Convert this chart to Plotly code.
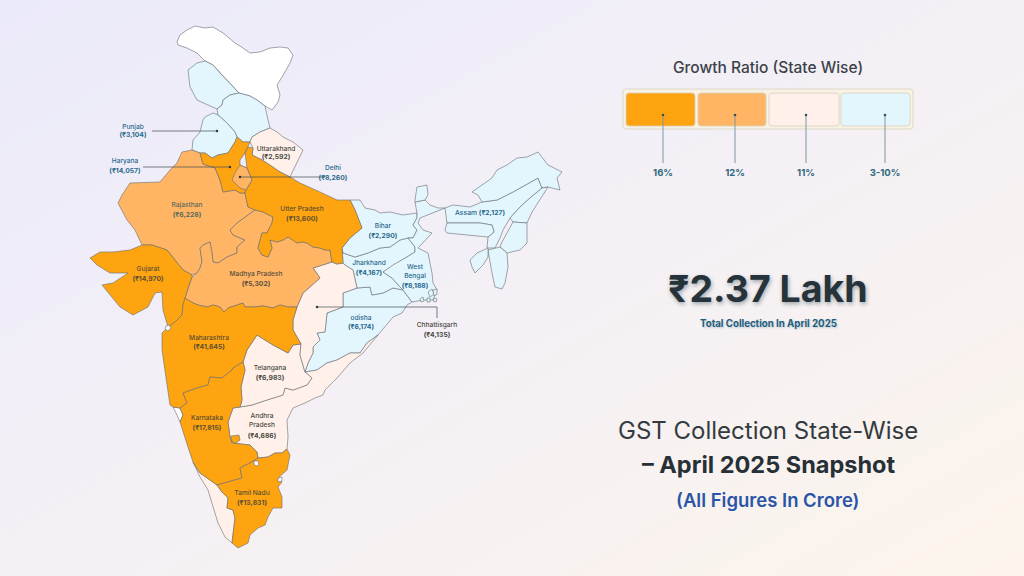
import plotly.graph_objects as go

FONT = "Inter"

# state outlines (x, y in image pixels)
LADAKH = [(177,42),(180,35),(187,30),(195,26),(205,28),(213,27),(223,33),(235,43),(243,48),(250,53),(260,52),(270,48),(280,47),(288,48),(293,55),(290,63),(282,77),(277,85),(280,95),(278,102),(272,110),(265,106),(257,100),(250,96),(239,93),(230,83),(220,73),(213,65),(205,61),(197,53),(187,48),(178,45)]
JAMMU_KASHMIR = [(188,70),(197,63),(205,61),(213,65),(220,73),(230,83),(239,93),(230,95),(223,100),(222,105),(217,109),(208,105),(197,100),(190,87)]
HIMACHAL = [(217,109),(222,105),(223,100),(230,95),(239,93),(250,96),(257,100),(265,106),(268,120),(270,128),(260,132),(252,137),(250,142),(243,142),(237,137),(235,132),(227,123),(218,115)]
PUNJAB = [(205,117),(213,113),(218,115),(227,123),(235,132),(237,137),(235,142),(228,153),(218,155),(212,158),(205,153),(200,153),(192,150),(193,140),(200,132),(203,120)]
UTTARAKHAND = [(252,137),(260,132),(270,128),(277,132),(283,137),(293,142),(303,150),(297,162),(290,177),(280,172),(270,165),(262,160),(252,155),(253,148),(250,142)]
HARYANA = [(200,153),(205,153),(212,158),(218,155),(228,153),(235,142),(237,137),(243,142),(250,142),(248,147),(245,153),(240,160),(240,165),(247,168),(252,180),(246,190),(245,193),(240,193),(235,190),(223,192),(220,180),(215,168),(203,164)]
DELHI = [(240,165),(247,168),(252,180),(246,190),(240,188),(232,180),(235,173)]
UTTAR_PRADESH = [(248,147),(253,148),(252,155),(262,160),(270,165),(280,172),(290,177),(300,183),(320,192),(337,200),(350,200),(355,210),(362,228),(350,238),(342,248),(343,263),(337,264),(332,262),(330,250),(325,250),(320,248),(313,247),(307,243),(302,242),(297,243),(293,240),(288,237),(283,240),(277,242),(270,240),(272,248),(268,257),(262,255),(258,248),(262,233),(267,233),(272,223),(273,217),(263,212),(255,210),(248,207),(245,193),(246,190),(252,180),(247,168),(245,153)]
RAJASTHAN = [(182,152),(192,150),(200,153),(203,164),(215,168),(220,180),(223,192),(235,190),(240,193),(245,193),(248,207),(255,210),(237,223),(230,230),(233,235),(245,240),(237,247),(237,253),(227,257),(218,263),(213,262),(212,253),(210,242),(203,245),(200,248),(202,262),(200,268),(197,273),(192,275),(183,270),(167,250),(152,245),(142,245),(135,230),(127,220),(118,203),(122,195),(130,183),(160,182),(170,170),(177,163)]
MADHYA_PRADESH = [(255,210),(263,212),(273,217),(272,223),(267,233),(262,233),(258,248),(262,255),(268,257),(272,248),(270,240),(277,242),(283,240),(288,237),(293,240),(297,243),(302,242),(307,243),(313,247),(320,248),(325,250),(330,250),(332,262),(313,268),(320,278),(310,287),(303,293),(297,307),(288,307),(280,305),(273,308),(263,306),(253,307),(245,307),(243,303),(237,305),(228,308),(224,312),(220,307),(213,305),(207,307),(198,305),(193,303),(185,298),(188,288),(192,277),(197,273),(200,268),(202,262),(200,248),(203,245),(210,242),(212,253),(213,262),(218,263),(227,257),(237,253),(237,247),(245,240),(233,235),(230,230),(237,223)]
GUJARAT = [(90,258),(100,252),(113,252),(130,250),(142,245),(152,245),(167,250),(183,270),(192,275),(192,277),(188,288),(185,298),(183,305),(182,315),(175,322),(168,327),(167,323),(163,310),(162,292),(155,293),(148,307),(133,315),(120,307),(108,293),(102,285),(113,283),(128,273),(110,273),(97,265)]
MAHARASHTRA = [(162,333),(167,328),(175,322),(182,315),(183,305),(185,298),(193,303),(198,305),(207,307),(213,305),(220,307),(224,312),(228,308),(237,305),(243,303),(245,307),(253,307),(263,306),(273,308),(280,305),(288,307),(297,307),(293,320),(293,330),(301,344),(293,345),(288,353),(273,345),(257,335),(247,350),(243,362),(233,368),(232,370),(222,378),(210,377),(208,385),(197,388),(183,393),(187,403),(180,408),(173,407),(170,405),(165,370),(162,350)]
KARNATAKA = [(243,362),(245,370),(241,387),(242,400),(240,407),(233,408),(228,422),(230,437),(232,443),(250,445),(257,452),(258,458),(250,463),(240,468),(242,478),(228,482),(217,485),(200,473),(193,462),(188,447),(180,422),(183,415),(180,408),(187,403),(183,393),(197,388),(208,385),(210,377),(222,378),(232,370),(233,368)]
GOA = [(173,407),(180,408),(183,415),(180,422),(177,415)]
KERALA = [(193,462),(200,473),(217,485),(222,492),(228,498),(227,508),(233,510),(235,518),(232,543),(225,537),(218,523),(215,513),(208,490),(200,477)]
TAMIL_NADU = [(217,485),(228,482),(242,478),(240,468),(250,463),(258,458),(268,457),(275,453),(282,453),(287,449),(290,455),(287,470),(278,478),(282,482),(278,487),(282,497),(282,508),(273,508),(268,517),(265,525),(258,528),(250,535),(248,543),(238,548),(232,543),(235,518),(233,510),(227,508),(228,498),(222,492)]
ANDHRA_PRADESH = [(240,407),(252,405),(267,400),(283,395),(285,388),(293,390),(307,385),(312,378),(305,372),(317,370),(327,363),(337,360),(350,353),(360,353),(367,343),(378,335),(363,353),(350,363),(337,378),(325,390),(323,395),(315,398),(305,403),(293,408),(287,420),(288,437),(287,449),(282,453),(275,453),(268,457),(258,458),(257,452),(250,445),(232,443),(230,437),(228,422),(233,408)]
TELANGANA = [(243,362),(247,350),(257,335),(273,345),(288,353),(293,345),(301,344),(300,355),(305,372),(312,378),(307,385),(293,390),(285,388),(283,395),(267,400),(252,405),(240,407),(242,400),(241,387),(245,370)]
CHHATTISGARH = [(332,262),(337,264),(343,263),(345,265),(353,270),(355,278),(357,288),(343,293),(343,307),(327,313),(325,332),(317,333),(320,340),(313,347),(313,353),(308,363),(305,372),(300,355),(301,344),(293,330),(293,320),(297,307),(303,293),(310,287),(320,278),(313,268)]
ODISHA = [(343,307),(327,313),(325,332),(317,333),(320,340),(313,347),(313,353),(308,363),(305,372),(317,370),(327,363),(337,360),(350,353),(360,353),(367,343),(378,335),(393,317),(402,313),(407,305),(412,302),(403,290),(393,288),(383,293),(372,295),(370,287),(357,288),(343,293)]
JHARKHAND = [(343,253),(355,257),(368,253),(380,248),(390,247),(400,240),(408,238),(415,247),(415,252),(407,257),(393,265),(383,272),(392,278),(400,287),(403,290),(393,288),(383,293),(372,295),(370,287),(357,288),(355,278),(353,270),(345,265),(343,263),(342,248)]
BIHAR = [(350,200),(360,200),(365,208),(375,210),(380,213),(390,212),(403,215),(417,213),(417,218),(413,225),(417,230),(413,238),(408,238),(400,240),(390,247),(380,248),(368,253),(355,257),(343,253),(342,248),(350,238),(362,228),(355,210)]
WEST_BENGAL = [(417,213),(417,218),(413,225),(417,230),(413,238),(408,238),(415,247),(415,252),(407,257),(393,265),(383,272),(392,278),(400,287),(403,290),(412,302),(423,300),(433,300),(437,290),(433,283),(432,273),(430,263),(428,253),(418,248),(425,240),(432,233),(423,230),(418,223),(420,218),(428,215),(435,212),(445,208),(438,208),(430,205),(425,200),(415,202)]
SIKKIM = [(415,202),(415,200),(417,187),(427,185),(428,195),(425,200)]
ASSAM = [(445,208),(453,205),(470,207),(482,202),(497,200),(513,192),(538,178),(542,188),(530,198),(520,207),(510,218),(503,230),(500,238),(495,248),(487,248),(488,240),(488,237),(494,232),(492,225),(480,223),(457,223),(447,223)]
MEGHALAYA = [(447,223),(457,223),(480,223),(492,225),(494,232),(488,237),(467,235),(447,233),(445,230)]
ARUNACHAL = [(472,192),(482,185),(492,178),(497,170),(507,165),(517,158),(527,157),(538,152),(543,158),(548,165),(562,172),(557,178),(560,190),(548,187),(542,188),(538,178),(513,192),(497,200),(482,202),(478,195)]
NAGALAND = [(530,198),(542,188),(548,187),(532,212),(527,223),(513,222),(510,218),(520,207)]
MANIPUR = [(502,242),(513,222),(527,223),(527,243),(520,250),(507,253),(500,247)]
MIZORAM = [(488,250),(500,247),(507,253),(508,267),(505,283),(502,289),(495,287),(492,273)]
TRIPURA = [(470,260),(477,253),(488,248),(488,257),(483,265),(475,273),(472,267)]
# little enclaves and islands
DAMAN = [(166,326),(169,325),(171,328),(168,331),(165,329)]
PUDUCHERRY = [(254,461),(258,461),(259,465),(256,466),(254,464)]
KARAIKAL = [(278,478),(282,477),(282,481),(278,482)]
BENGALURU = [(231,436),(239,435),(240,440),(236,443),(232,442)]
DELTA_A = [(428,292),(432,289),(434,294),(430,297)]
DELTA_B = [(433,290),(437,289),(437,294),(434,296)]
DELTA_C = [(420,299),(423,297),(424,301),(421,302)]
DELTA_D = [(427,298),(430,298),(430,302),(427,302)]
DELTA_E = [(434,298),(437,299),(436,302),(433,301)]

ORANGE = "#FFA411"
LIGHT_ORANGE = "#FFB564"
PEACH = "#FFF1E9"
PALE_BLUE = "#E3F6FE"
WHITE = "#FFFFFF"

white_states = [LADAKH, GOA]
blue_states = [JAMMU_KASHMIR, HIMACHAL, PUNJAB, ODISHA, JHARKHAND, BIHAR, WEST_BENGAL, SIKKIM, ASSAM, MEGHALAYA, ARUNACHAL, NAGALAND, MANIPUR, MIZORAM, TRIPURA]
peach_states = [UTTARAKHAND, KERALA, ANDHRA_PRADESH, TELANGANA, CHHATTISGARH]
light_states = [RAJASTHAN, MADHYA_PRADESH]
orange_states = [HARYANA, UTTAR_PRADESH, GUJARAT, MAHARASHTRA, KARNATAKA, TAMIL_NADU]
small_white = [DAMAN, PUDUCHERRY, KARAIKAL]
small_orange = [BENGALURU]
small_blue = [DELTA_A, DELTA_B, DELTA_C, DELTA_D, DELTA_E]

# labels
state_names = ["Punjab", "Haryana", "Uttarakhand", "Delhi", "Rajasthan", "Utter Pradesh", "Gujarat", "Madhya Pradesh", "Maharashtra", "Telangana", "Karnataka", "Andhra<br>Pradesh", "Tamil Nadu", "Bihar", "Jharkhand", "West<br>Bengal", "odisha", "Chhattisgarh"]
state_values = ["₹3,104", "₹14,057", "₹2,592", "₹8,260", "₹6,228", "₹13,600", "₹14,970", "₹5,302", "₹41,645", "₹6,983", "₹17,815", "₹4,686", "₹13,831", "₹2,290", "₹4,167", "₹8,188", "₹6,174", "₹4,135"]
label_x = [133, 125, 276, 333, 187, 302, 148, 256, 209, 270, 207, 262, 252, 383, 369, 415, 361, 437]
name_y = [127, 161, 149, 168, 205, 209, 269, 274, 338, 368, 418, 421, 493, 226, 263, 272, 318, 325]
value_y = [135, 171, 157, 178, 215, 219, 279, 284, 347, 378, 428, 436, 503, 236, 273, 286, 327, 335]
BLUE_TEXT = "#2A6A8C"
DARK_TEXT = "#4A4A45"
OLIVE_TEXT = "#5C5030"
label_colors = [BLUE_TEXT, BLUE_TEXT, DARK_TEXT, BLUE_TEXT, "#5A6A5A", OLIVE_TEXT, OLIVE_TEXT, "#5A5040", OLIVE_TEXT, DARK_TEXT, OLIVE_TEXT, DARK_TEXT, OLIVE_TEXT, BLUE_TEXT, BLUE_TEXT, BLUE_TEXT, BLUE_TEXT, DARK_TEXT]

# leader lines on the map
punjab_line = ([152, 217], [131, 131])
haryana_line = ([143, 230], [167, 167])
delhi_line = ([240, 325], [177, 177])
chhattisgarh_line = ([317, 437, 437], [307, 307, 318])

# legend
growth_labels = ["16%", "12%", "11%", "3-10%"]
growth_colors = [ORANGE, LIGHT_ORANGE, PEACH, PALE_BLUE]
box_left = [626, 698, 769, 841]
box_right = [695, 766, 839, 910]
tick_x = [663, 735, 806, 885]


def rounded(x0, y0, x1, y1, r):
    return (f"M{x0+r},{y0} L{x1-r},{y0} Q{x1},{y0} {x1},{y0+r} L{x1},{y1-r} Q{x1},{y1} {x1-r},{y1} "
            f"L{x0+r},{y1} Q{x0},{y1} {x0},{y1-r} L{x0},{y0+r} Q{x0},{y0} {x0+r},{y0} Z")


fig = go.Figure()

# background wash
fig.add_trace(go.Heatmap(
    x=[0, 1024], y=[0, 576], z=[[0, 1], [1, 2]], zsmooth="best", showscale=False, hoverinfo="skip",
    colorscale=[[0, "#EBEAFB"], [0.5, "#F4F0F5"], [1, "#FCF4EB"]],
))

for group, color in [(white_states, WHITE), (blue_states, PALE_BLUE), (peach_states, PEACH),
                     (light_states, LIGHT_ORANGE), (orange_states, ORANGE), ([DELHI], LIGHT_ORANGE),
                     (small_white, WHITE), (small_orange, ORANGE), (small_blue, PALE_BLUE)]:
    for pts in group:
        fig.add_trace(go.Scatter(
            x=[p[0] for p in pts] + [pts[0][0]], y=[p[1] for p in pts] + [pts[0][1]],
            mode="lines", fill="toself", fillcolor=color,
            line=dict(color="#666C70", width=0.6), hoverinfo="skip",
        ))

for xs, ys in [punjab_line, haryana_line, delhi_line, chhattisgarh_line]:
    fig.add_trace(go.Scatter(x=xs, y=ys, mode="lines", line=dict(color="#3F4A50", width=0.7), hoverinfo="skip"))
fig.add_trace(go.Scatter(
    x=[punjab_line[0][1], haryana_line[0][1], delhi_line[0][0], chhattisgarh_line[0][0]],
    y=[punjab_line[1][1], haryana_line[1][1], delhi_line[1][0], chhattisgarh_line[1][0]],
    mode="markers", marker=dict(color="#2F3A40", size=2.5), hoverinfo="skip",
))

fig.add_trace(go.Scatter(
    x=label_x, y=name_y, text=state_names, mode="text", hoverinfo="skip",
    textfont=dict(family=FONT, size=6.6, color=label_colors, weight=500),
))
fig.add_trace(go.Scatter(
    x=label_x, y=value_y, text=[f"({v})" for v in state_values], mode="text", hoverinfo="skip",
    textfont=dict(family=FONT, size=6.8, color=label_colors, weight=700),
))
fig.add_trace(go.Scatter(
    x=[480], y=[213], text=["Assam <b>(₹2,127)</b>"], mode="text", hoverinfo="skip",
    textfont=dict(family=FONT, size=6.8, color=BLUE_TEXT, weight=500),
))

# legend boxes
shapes = [dict(type="path", path=rounded(623, 89, 913, 129, 3), fillcolor="#F8F2E3",
               line=dict(color="#DDD8C8", width=1), layer="above")]
for left, right, color in zip(box_left, box_right, growth_colors):
    shapes.append(dict(type="path", path=rounded(left, 93, right, 126, 3), fillcolor=color,
                       line=dict(color="#D8CFC0", width=0.8), layer="above"))
for x in tick_x:
    shapes.append(dict(type="line", x0=x, x1=x, y0=115, y1=163, line=dict(color="#7D97A6", width=1), layer="above"))
    shapes.append(dict(type="circle", x0=x-1.3, x1=x+1.3, y0=113.7, y1=116.3, fillcolor="#34505F", line=dict(width=0), layer="above"))
fig.add_trace(go.Scatter(
    x=tick_x, y=[174] * 4, text=growth_labels, mode="text", hoverinfo="skip",
    textfont=dict(family=FONT, size=9.5, color="#2F6A80", weight=700),
))

annotations = [
    dict(x=768, y=67, text="Growth Ratio (State Wise)", font=dict(family=FONT, size=15.5, color="#3C4248", weight=500)),
    dict(x=768, y=288, text="₹2.37 Lakh", font=dict(family=FONT, size=37.5, color="#26333A", weight=700, shadow="1px 2px 4px #9AA4AA")),
    dict(x=768, y=323, text="Total Collection In April 2025", font=dict(family=FONT, size=9.7, color="#1F6080", weight=700, shadow="1px 1px 2px #B5C5CC")),
    dict(x=768, y=430, text="GST Collection State-Wise", font=dict(family=FONT, size=24, color="#333B40", weight=400)),
    dict(x=768, y=464, text="– April 2025 Snapshot", font=dict(family=FONT, size=23.5, color="#263036", weight=700)),
    dict(x=768, y=500, text="(All Figures In Crore)", font=dict(family=FONT, size=18.5, color="#2A55A8", weight=600)),
]
for a in annotations:
    a.update(xref="x", yref="y", showarrow=False, xanchor="center", yanchor="middle")

fig.update_layout(
    width=1024, height=576, margin=dict(l=0, r=0, t=0, b=0), showlegend=False,
    plot_bgcolor="#F4F0F5", paper_bgcolor="#F4F0F5", shapes=shapes, annotations=annotations,
    xaxis=dict(range=[0, 1024], visible=False, fixedrange=True),
    yaxis=dict(range=[576, 0], visible=False, fixedrange=True),
)
fig.write_html("out.html", config=dict(displayModeBar=False),
               post_script="document.body.style.margin='0';document.body.style.overflow='hidden';")
